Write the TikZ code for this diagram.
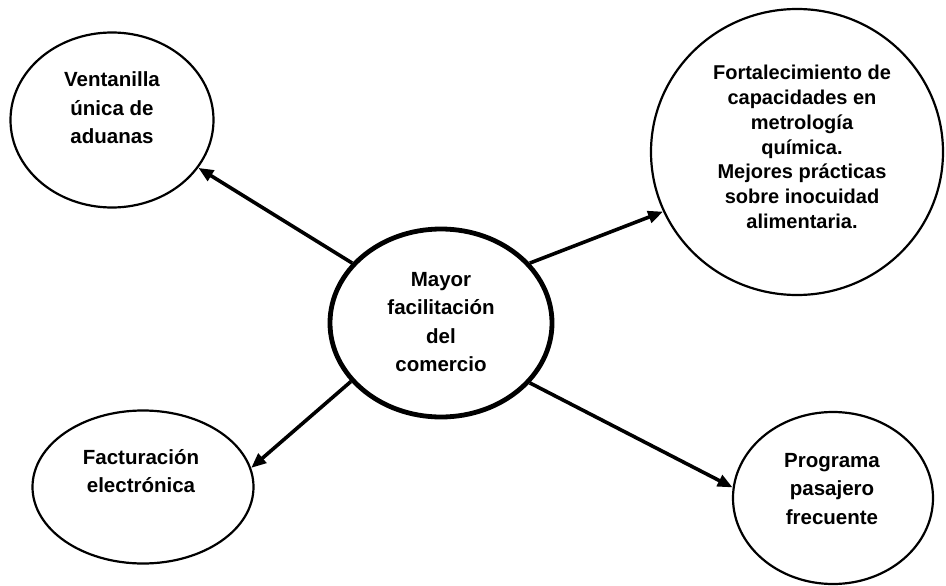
\documentclass[tikz,border=0pt]{standalone}
\usepackage{fontspec}
\setmainfont{Liberation Sans}
\usetikzlibrary{shapes.geometric,arrows.meta}

\begin{document}
\begin{tikzpicture}[x=1pt,y=-1pt,
    bubble/.style={ellipse,draw,line width=2.2pt,inner sep=0pt},
    txt/.style={align=center,font=\bfseries\fontsize{20.5}{28.5}\selectfont},
    arr/.style={line width=3.6pt,-{Triangle[length=15pt,width=12pt]}}]
    \useasboundingbox (0,0) rectangle (946,586);
    % bubbles
    \node[bubble,line width=4.8pt,minimum width=222,minimum height=188] (mid) at (441,323) {};
    \node[bubble,minimum width=203,minimum height=175] (vent) at (112,120) {};
    \node[bubble,minimum width=292,minimum height=286] (fort) at (797,152) {};
    \node[bubble,minimum width=221,minimum height=153] (fact) at (143,487) {};
    \node[bubble,minimum width=200,minimum height=172] (prog) at (833,498) {};
    % texts
    \node[txt] (mid-t) at (441,322) {Mayor\\facilitación\\del\\comercio};
    \node[txt] (vent-t) at (112,108) {Ventanilla\\única de\\aduanas};
    \node[txt,font=\bfseries\fontsize{20}{24.8}\selectfont] (fort-t) at (802,147)
        {Fortalecimiento de\\capacidades en\\metrología\\química.\\Mejores prácticas\\sobre inocuidad\\alimentaria.};
    \node[txt] (fact-t) at (141,471) {Facturación\\electrónica};
    \node[txt] (prog-t) at (832,489) {Programa\\pasajero\\frecuente};
    % arrows
    \draw[arr] (mid.146) -- (vent.331);
    \draw[arr] (mid.34) -- (fort.204);
    \draw[arr] (mid.213) -- (fact.10);
    \draw[arr] (mid.326) -- (prog.174);
\end{tikzpicture}
\end{document}
